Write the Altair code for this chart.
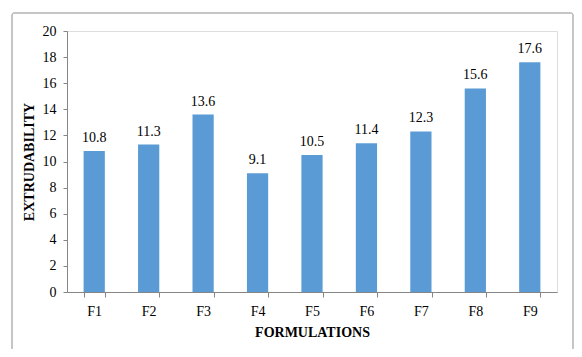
import altair as alt
import pandas as pd

categories = ["F1", "F2", "F3", "F4", "F5", "F6", "F7", "F8", "F9"]
values = [10.8, 11.3, 13.6, 9.1, 10.5, 11.4, 12.3, 15.6, 17.6]
y_ticks = [0, 2, 4, 6, 8, 10, 12, 14, 16, 18, 20]

df = pd.DataFrame({"cat": categories, "val": values})
FONT = "Liberation Serif"

x_enc = alt.X("cat:N", sort=categories,
              scale=alt.Scale(paddingInner=0.61, paddingOuter=0.305),
              axis=alt.Axis(title="FORMULATIONS", labelAngle=0, labelPadding=7,
                            titlePadding=7, tickSize=5, tickBand="extent"))
y_enc = alt.Y("val:Q", scale=alt.Scale(domain=[0, 20], nice=False),
              axis=alt.Axis(title="EXTRUDABILITY", values=y_ticks,
                            labelOverlap=False, grid=False, labelPadding=7,
                            titlePadding=6, tickSize=4))

base = alt.Chart(df).encode(x=x_enc, y=y_enc)

bars = base.mark_bar(color="#5B9BD5")

text = base.mark_text(dy=-13, font=FONT, fontSize=14, color="black").encode(
    text=alt.Text("val:Q", format=".1f"),
)

frame = alt.Chart(df).mark_rect(
    fill=None, stroke="#8c8c8c", strokeWidth=1, clip=False, cornerRadius=2
).encode(
    x=alt.value(-55), x2=alt.value(506), y=alt.value(-18), y2=alt.value(319)
).transform_filter("datum.cat == 'F1'")

chart = alt.layer(bars, text, frame).properties(
    width=490, height=261,
    autosize=alt.AutoSizeParams(type="none"),
    padding={"left": 59, "top": 23, "right": 17, "bottom": 57},
).configure_view(stroke=None).configure(background="white").configure_axis(
    labelFont=FONT, labelFontSize=14, labelColor="black",
    titleFont=FONT, titleFontSize=14, titleFontWeight="bold", titleColor="black",
    domainColor="#868686", tickColor="#868686",
)

chart.save("out.html", embed_options={"renderer": "svg", "actions": False})
